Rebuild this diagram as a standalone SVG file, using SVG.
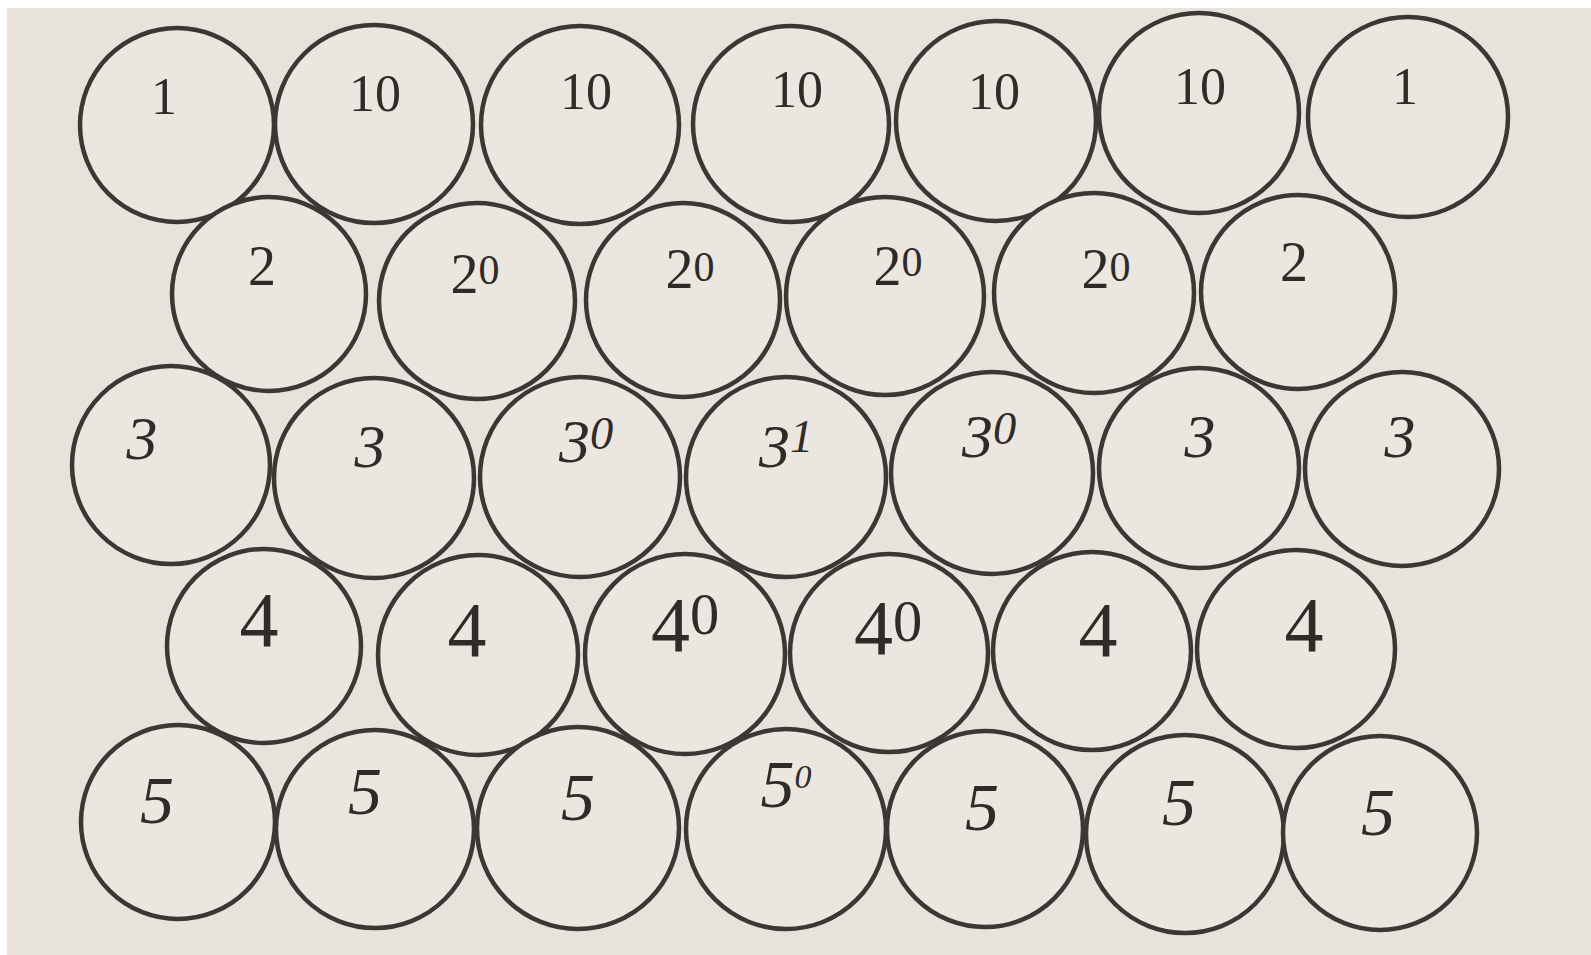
<svg xmlns="http://www.w3.org/2000/svg" width="1591" height="955" viewBox="0 0 1591 955">
<style>
.c{fill:#ebe6df;stroke:#3b3732;stroke-width:4.5}
.t{font-family:"Liberation Serif","DejaVu Serif",serif;fill:#2f2b27;text-anchor:middle;dominant-baseline:central}
.n1{font-size:52px}
.n2{font-size:56px}
.n3{font-size:62px;font-style:italic}
.n4{font-size:78px}
.n5{font-size:68px;font-style:italic}
.sup{font-size:0.75em}
</style>
<rect x="0" y="0" width="1591" height="955" fill="#ffffff"/>
<rect x="7" y="8" width="1584" height="947" fill="#e7e2db"/>
<g id="connectors"/>
<g id="row1">
<g id="n-r1-1"><circle class="c" cx="177" cy="125" r="97"/><text class="t n1" x="164" y="96">1</text></g>
<g id="n-r1-2"><circle class="c" cx="374" cy="124" r="99"/><text class="t n1" x="375" y="93">10</text></g>
<g id="n-r1-3"><circle class="c" cx="580" cy="125" r="99"/><text class="t n1" x="586" y="91">10</text></g>
<g id="n-r1-4"><circle class="c" cx="791" cy="124" r="98"/><text class="t n1" x="797" y="89">10</text></g>
<g id="n-r1-5"><circle class="c" cx="996" cy="121" r="100"/><text class="t n1" x="994" y="91">10</text></g>
<g id="n-r1-6"><circle class="c" cx="1199" cy="113" r="100"/><text class="t n1" x="1200" y="86">10</text></g>
<g id="n-r1-7"><circle class="c" cx="1408" cy="117" r="100"/><text class="t n1" x="1405" y="86">1</text></g>
</g>
<g id="row2">
<g id="n-r2-1"><circle class="c" cx="269" cy="294" r="97"/><text class="t n2" x="262" y="266">2</text></g>
<g id="n-r2-2"><circle class="c" cx="477" cy="301" r="98"/><text class="t n2" x="475" y="274">2<tspan class="sup" dy="-4">0</tspan></text></g>
<g id="n-r2-3"><circle class="c" cx="683" cy="300" r="97"/><text class="t n2" x="690" y="269">2<tspan class="sup" dy="-2">0</tspan></text></g>
<g id="n-r2-4"><circle class="c" cx="885" cy="296" r="99"/><text class="t n2" x="898" y="266">2<tspan class="sup" dy="-4">0</tspan></text></g>
<g id="n-r2-5"><circle class="c" cx="1094" cy="293" r="100"/><text class="t n2" x="1106" y="269">2<tspan class="sup" dy="-2">0</tspan></text></g>
<g id="n-r2-6"><circle class="c" cx="1298" cy="292" r="97"/><text class="t n2" x="1294" y="262">2</text></g>
</g>
<g id="row3">
<g id="n-r3-1"><circle class="c" cx="171" cy="465" r="99"/><text class="t n3" x="142" y="438">3</text></g>
<g id="n-r3-2"><circle class="c" cx="374" cy="478" r="100"/><text class="t n3" x="370" y="446">3</text></g>
<g id="n-r3-3"><circle class="c" cx="580" cy="477" r="100"/><text class="t n3" x="586" y="441">3<tspan class="sup" dy="-8">0</tspan></text></g>
<g id="n-r3-4"><circle class="c" cx="786" cy="477" r="100"/><text class="t n3" x="786" y="446">3<tspan class="sup" dy="-10">1</tspan></text></g>
<g id="n-r3-5"><circle class="c" cx="992" cy="473" r="101"/><text class="t n3" x="989" y="436">3<tspan class="sup" dy="-8">0</tspan></text></g>
<g id="n-r3-6"><circle class="c" cx="1199" cy="468" r="100"/><text class="t n3" x="1200" y="436">3</text></g>
<g id="n-r3-7"><circle class="c" cx="1402" cy="469" r="97"/><text class="t n3" x="1400" y="436">3</text></g>
</g>
<g id="row4">
<g id="n-r4-1"><circle class="c" cx="264" cy="646" r="97"/><text class="t n4" x="259" y="619">4</text></g>
<g id="n-r4-2"><circle class="c" cx="478" cy="655" r="100"/><text class="t n4" x="467" y="629">4</text></g>
<g id="n-r4-3"><circle class="c" cx="685" cy="654" r="100"/><text class="t n4" x="685" y="624">4<tspan class="sup" font-size="48" dy="-10">0</tspan></text></g>
<g id="n-r4-4"><circle class="c" cx="889" cy="653" r="99"/><text class="t n4" x="888" y="627">4<tspan class="sup" font-size="48" dy="-6">0</tspan></text></g>
<g id="n-r4-5"><circle class="c" cx="1092" cy="651" r="99"/><text class="t n4" x="1098" y="629">4</text></g>
<g id="n-r4-6"><circle class="c" cx="1296" cy="649" r="99"/><text class="t n4" x="1304" y="624">4</text></g>
</g>
<g id="row5">
<g id="n-r5-1"><circle class="c" cx="178" cy="822" r="97"/><text class="t n5" x="157" y="800">5</text></g>
<g id="n-r5-2"><circle class="c" cx="375" cy="829" r="99"/><text class="t n5" x="365" y="791">5</text></g>
<g id="n-r5-3"><circle class="c" cx="578" cy="828" r="101"/><text class="t n5" x="578" y="797">5</text></g>
<g id="n-r5-4"><circle class="c" cx="786" cy="829" r="100"/><text class="t n5" x="786" y="784" font-size="50">5<tspan font-size="34" dy="-8">0</tspan></text></g>
<g id="n-r5-5"><circle class="c" cx="985" cy="829" r="98"/><text class="t n5" x="982" y="807">5</text></g>
<g id="n-r5-6"><circle class="c" cx="1185" cy="834" r="99"/><text class="t n5" x="1179" y="802" font-size="56">5</text></g>
<g id="n-r5-7"><circle class="c" cx="1380" cy="833" r="97"/><text class="t n5" x="1378" y="812">5</text></g>
</g>
</svg>
